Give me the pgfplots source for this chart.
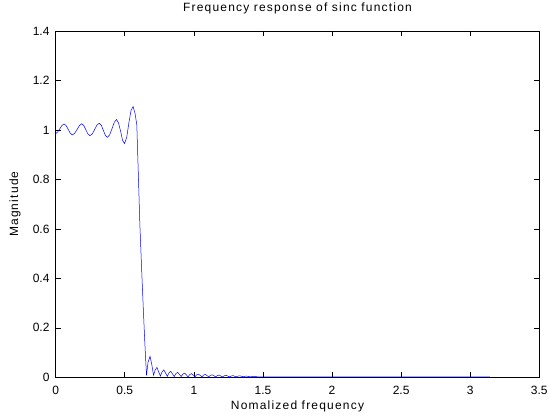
\documentclass[border=0pt]{standalone}
\usepackage{fontspec}
\setmainfont{Liberation Sans}
\newfontfamily\lblfont[LetterSpace=10]{Liberation Sans}
\usepackage{pgfplots}
\pgfplotsset{compat=1.18}
\definecolor{mlblue}{RGB}{0,0,255}

\begin{document}
\begin{tikzpicture}
\begin{axis}[
    name=ax,
    scale only axis,
    width=483.6pt, height=346.3pt,
    xmin=0, xmax=3.5, ymin=0, ymax=1.4,
    xtick={0,0.5,1,1.5,2,2.5,3,3.5},
    ytick={0,0.2,0.4,0.6,0.8,1,1.2,1.4},
    tick align=inside,
    major tick length=5pt,
    axis line style={black, line width=0.6pt},
    every tick/.style={black, line width=0.6pt},
    /pgf/number format/assume math mode=true,
    tick label style={font=\fontsize{12}{14}\selectfont},
    xticklabel style={anchor=center, yshift=-12.7pt},
    yticklabel style={anchor=east, inner sep=0pt, xshift=-6pt},
    title={Frequency response of sinc function},
    title style={font=\lblfont\fontsize{12}{14}\selectfont, at={(axis description cs:0.5,1.0491)}, anchor=center},
    xlabel={Nomalized frequency},
    xlabel style={font=\lblfont\fontsize{12}{14}\selectfont, at={(axis description cs:0.5,-0.0849)}, anchor=center},
    ylabel={Magnitude},
    ylabel style={font=\lblfont\fontsize{12}{14}\selectfont, at={(axis description cs:-0.0842,0.5)}, anchor=center},
]
% magnitude response
\addplot[mlblue, line width=0.5pt] coordinates {
    (0.000,0.985) (0.015,0.992) (0.030,1.005) (0.045,1.018) (0.060,1.024)
    (0.075,1.018) (0.090,1.003) (0.105,0.987) (0.120,0.980)
    (0.137,0.986) (0.155,1.002) (0.172,1.018) (0.188,1.025)
    (0.203,1.018) (0.218,1.001) (0.233,0.984) (0.248,0.977)
    (0.265,0.984) (0.282,1.002) (0.299,1.020) (0.315,1.027)
    (0.330,1.019) (0.345,0.998) (0.360,0.977) (0.375,0.970)
    (0.391,0.981) (0.408,1.006) (0.424,1.031) (0.440,1.042)
    (0.455,1.028) (0.470,0.994) (0.484,0.958) (0.498,0.945)
    (0.514,0.970) (0.530,1.030) (0.545,1.078) (0.560,1.095)
    (0.575,1.065) (0.587,1.020) (0.597,0.840) (0.609,0.620)
    (0.621,0.450) (0.633,0.290) (0.645,0.140) (0.657,0.008)
    (0.668,0.060) (0.683,0.085) (0.696,0.050) (0.708,0.008)
    (0.720,0.030) (0.733,0.040) (0.745,0.022) (0.758,0.005)
    (0.770,0.022) (0.783,0.030) (0.795,0.017) (0.808,0.004)
    (0.820,0.018) (0.833,0.024) (0.845,0.014) (0.858,0.003)
    (0.870,0.015) (0.883,0.020) (0.895,0.012) (0.908,0.003)
    (0.920,0.013) (0.933,0.017) (0.945,0.010) (0.958,0.002)
    (0.970,0.011) (0.983,0.015) (0.995,0.009) (1.008,0.002)
    (1.020,0.010) (1.033,0.013) (1.045,0.008) (1.058,0.002)
    (1.070,0.009) (1.083,0.012) (1.095,0.007) (1.108,0.002)
    (1.120,0.008) (1.133,0.010) (1.145,0.006) (1.158,0.002)
    (1.170,0.007) (1.183,0.009) (1.195,0.005) (1.208,0.002)
    (1.220,0.006) (1.233,0.008) (1.245,0.005) (1.258,0.002)
    (1.270,0.005) (1.283,0.007) (1.295,0.004) (1.308,0.002)
    (1.320,0.005) (1.333,0.006) (1.345,0.004) (1.358,0.002)
    (1.370,0.004) (1.383,0.005) (1.395,0.003) (1.408,0.002)
    (1.420,0.003) (1.433,0.004) (1.445,0.003) (1.460,0.002)
    (2.000,0.002) (2.500,0.002) (3.000,0.002) (3.1416,0.002)
};
\end{axis}
\pgfresetboundingbox
\path ([xshift=-55.7pt,yshift=-39.7pt]ax.south west) rectangle ([xshift=9.7pt,yshift=31pt]ax.north east);
\end{tikzpicture}
\end{document}
